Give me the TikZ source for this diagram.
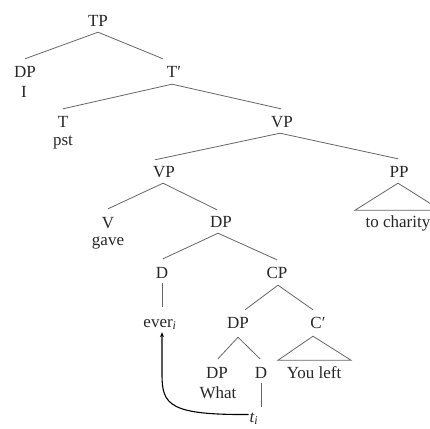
\documentclass[tikz,border=0pt]{standalone}
\usepackage{fontspec}
\setmainfont{Liberation Serif}
\usetikzlibrary{arrows.meta}
\begin{document}
\begin{tikzpicture}[x=1pt,y={(0pt,-1pt)},
  every node/.style={font=\fontsize{17}{20}\selectfont, text=black!85, inner sep=0pt, anchor=base},
  cat/.style={text height=11pt, text depth=0pt},
  edge/.style={draw=black!60, line width=0.8pt},
  mv/.style={draw=black, line width=1.1pt, -{Stealth[length=5pt,width=4pt]}}]
\useasboundingbox (0,0) rectangle (430,428);
\clip (0,0) rectangle (430,428);
% nodes
\node[cat] (TP) at (98,27) {TP};
\node[cat] (DPa) at (25,77) {DP};
\node (I) at (24,97) {I};
\node[cat] (Tb) at (174,77) {T′};
\node[cat] (T) at (63,127) {T};
\node (pst) at (63,145) {pst};
\node[cat] (VPa) at (282,127) {VP};
\node[cat] (VPb) at (164,177) {VP};
\node[cat] (PP) at (399,177) {PP};
\node (charity) at (398,227) {to charity};
\node[cat] (V) at (108,228) {V};
\node (gave) at (108,245) {gave};
\node[cat] (DPb) at (221,227) {DP};
\node[cat] (Da) at (162,278) {D};
\node[cat] (CP) at (277,278) {CP};
\node[cat] (ever) at (160,327) {ever\textsubscript{\itshape i}};
\node[cat] (DPc) at (238,328) {DP};
\node[cat] (Cb) at (318,328) {C′};
\node[cat] (DPd) at (217,378) {DP};
\node (what) at (218,398) {What};
\node[cat] (Db) at (261,378) {D};
\node (left) at (314,378) {You left};
\node (trace) at (254,422) {\itshape t\textsubscript{\itshape i}};
% edges
\draw[edge] ([yshift=-5pt]TP.south) -- ([yshift=7pt]DPa.north);
\draw[edge] ([yshift=-5pt]TP.south) -- ([xshift=-11pt,yshift=7pt]Tb.north);
\draw[edge] ([xshift=-2pt,yshift=-7pt]Tb.south) -- ([yshift=7pt]T.north);
\draw[edge] ([xshift=-2pt,yshift=-7pt]Tb.south) -- ([xshift=-1pt,yshift=7pt]VPa.north);
\draw[edge] ([xshift=-2pt,yshift=-6pt]VPa.south) -- ([xshift=-9pt,yshift=6pt]VPb.north);
\draw[edge] ([xshift=-2pt,yshift=-6pt]VPa.south) -- ([xshift=-1pt,yshift=7pt]PP.north);
\path (PP.south) ++(-1,6) coordinate (PPtop);
\draw[edge] (PPtop) -- ++(-43,27) -- ++(86,0) -- cycle;
\draw[edge] ([xshift=-1pt,yshift=-6pt]VPb.south) -- ([yshift=8pt]V.north);
\draw[edge] ([xshift=-1pt,yshift=-6pt]VPb.south) -- ([xshift=-4pt,yshift=6pt]DPb.north);
\draw[edge] ([xshift=-3pt,yshift=-6pt]DPb.south) -- ([xshift=1pt,yshift=8pt]Da.north);
\draw[edge] ([xshift=-3pt,yshift=-6pt]DPb.south) -- ([yshift=7pt]CP.north);
\draw[edge] ([yshift=-5pt]Da.south) -- ([xshift=2pt,yshift=9pt]ever.north);
\draw[edge] ([xshift=1pt,yshift=-7pt]CP.south) -- ([xshift=7pt,yshift=7pt]DPc.north);
\draw[edge] ([xshift=1pt,yshift=-7pt]CP.south) -- ([xshift=-5pt,yshift=7pt]Cb.north);
\path (Cb.south) ++(-5,8) coordinate (Cbtop);
\draw[edge] (Cbtop) -- ++(-35,24) -- ++(73,0) -- cycle;
\draw[edge] ([yshift=-9pt]DPc.south) -- ([xshift=1pt,yshift=8pt]DPd.north);
\draw[edge] ([yshift=-9pt]DPc.south) -- ([xshift=-1pt,yshift=8pt]Db.north);
\draw[edge] ([yshift=-5pt]Db.south) -- ([yshift=5pt]Db.south |- trace.north);
% movement arrow
\draw[mv] ([xshift=-1pt,yshift=4pt]trace.west) .. controls (170,415) and (162,405) .. (162,375) -- ([xshift=2pt,yshift=-5pt]ever.south);
\end{tikzpicture}
\end{document}
